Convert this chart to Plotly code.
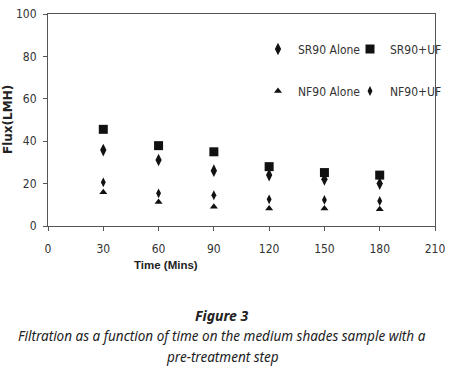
import plotly.graph_objects as go

time = [30, 60, 90, 120, 150, 180]
sr90_alone = [35.8, 31.1, 26.1, 24.0, 22.0, 20.0]
sr90_uf = [45.6, 37.9, 35.0, 28.0, 25.2, 24.0]
nf90_alone = [15.9, 11.3, 9.1, 8.3, 8.3, 7.9]
nf90_uf = [20.6, 15.4, 14.5, 12.6, 12.3, 11.8]

x_ticks = [0, 30, 60, 90, 120, 150, 180, 210]
y_ticks = [0, 20, 40, 60, 80, 100]

tick_font = dict(family="DejaVu Sans Condensed, Liberation Sans, sans-serif", size=12, color="#333333")
cap_font = "Noto Sans, Open Sans, sans-serif"

fig = go.Figure()
fig.add_trace(go.Scatter(x=time, y=sr90_alone, mode="markers", name="SR90 Alone",
                         marker=dict(symbol="diamond-tall", size=9, color="#111111"), legend="legend"))
fig.add_trace(go.Scatter(x=time, y=sr90_uf, mode="markers", name="SR90+UF",
                         marker=dict(symbol="square", size=9, color="#111111"), legend="legend2"))
fig.add_trace(go.Scatter(x=time, y=nf90_alone, mode="markers", name="NF90 Alone",
                         marker=dict(symbol="triangle-up", size=7, color="#111111"), legend="legend3"))
fig.add_trace(go.Scatter(x=time, y=nf90_uf, mode="markers", name="NF90+UF",
                         marker=dict(symbol="diamond-tall", size=7, color="#111111"), legend="legend4"))

leg_common = dict(font=tick_font, bgcolor="rgba(0,0,0,0)", itemwidth=30,
                  xanchor="left", yanchor="middle", itemclick=False, itemdoubleclick=False)
col1 = (258 - 48) / 387
col2 = (350 - 48) / 387
row1 = (226 - 49) / 212
row2 = (226 - 91) / 212
fig.update_layout(
    width=459, height=384,
    margin=dict(l=48, r=24, t=14, b=158, autoexpand=False),
    paper_bgcolor="white", plot_bgcolor="white",
    showlegend=True,
    legend=dict(x=col1, y=row1, **leg_common),
    legend2=dict(x=col2, y=row1, **leg_common),
    legend3=dict(x=col1, y=row2, **leg_common),
    legend4=dict(x=col2, y=row2, **leg_common),
    xaxis=dict(range=[0, 210], tickvals=x_ticks, showgrid=False, zeroline=False,
               showline=True, linecolor="#555555", linewidth=1, mirror=True,
               ticks="outside", ticklen=4, tickcolor="#555555", tickfont=tick_font,
               ticklabelstandoff=8),
    yaxis=dict(range=[0, 100], tickvals=y_ticks, showgrid=False, zeroline=False,
               showline=True, linecolor="#555555", linewidth=1, mirror=True,
               ticks="outside", ticklen=4, tickcolor="#555555", tickfont=tick_font,
               ticklabelstandoff=4),
)

fig.add_annotation(text="<b>Time (Mins)</b>", xref="paper", yref="paper", x=(166 - 48) / 387, y=-(265 - 226) / 212,
                   showarrow=False, font=dict(family="Liberation Sans, Arial, sans-serif", size=11.5, color="#222222"),
                   xanchor="center", yanchor="middle")
fig.add_annotation(text="<b>Flux(LMH)</b>", xref="paper", yref="paper", x=-(48 - 8) / 387, y=(226 - 120) / 212,
                   textangle=-90, showarrow=False,
                   font=dict(family="DejaVu Sans, Liberation Sans, sans-serif", size=12, color="#222222"),
                   xanchor="center", yanchor="middle")
fig.add_annotation(text="<b><i>Figure 3</i></b>", xref="paper", yref="paper", x=(222 - 48) / 387, y=-(315 - 226) / 212,
                   showarrow=False, font=dict(family=cap_font, size=14, color="#222222"),
                   xanchor="center", yanchor="middle")
fig.add_annotation(text="<i>Filtration as a function of time on the medium shades sample with a</i>",
                   xref="paper", yref="paper", x=(222 - 48) / 387, y=-(336 - 226) / 212,
                   showarrow=False, font=dict(family=cap_font, size=13.5, color="#222222"),
                   xanchor="center", yanchor="middle")
fig.add_annotation(text="<i>pre-treatment step</i>",
                   xref="paper", yref="paper", x=(222 - 48) / 387, y=-(357 - 226) / 212,
                   showarrow=False, font=dict(family=cap_font, size=13.5, color="#222222"),
                   xanchor="center", yanchor="middle")

fig.write_html("out.html", post_script="document.body.style.margin='0';",
               config={"displayModeBar": False})
